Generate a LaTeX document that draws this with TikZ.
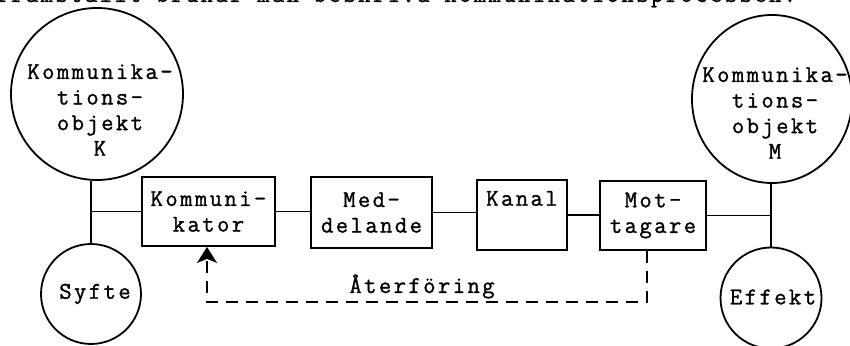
\documentclass[tikz,border=0pt]{standalone}
\usepackage{fontspec}
\newfontfamily\tw{Latin Modern Mono}[LetterSpace=10,FakeBold=1.2]
\usetikzlibrary{shapes.geometric,arrows.meta}
\begin{document}
\begin{tikzpicture}[x=0.5pt,y=-0.5pt, line width=0.9pt,
  txt/.style={font=\tw\fontsize{12}{12.8}\selectfont, inner sep=0pt, align=center},
  bigcirc/.style={draw, ellipse, inner sep=0pt},
  smallcirc/.style={draw, circle, inner sep=0pt, minimum size=50pt},
  box/.style={draw, rectangle, inner sep=0pt, txt},
  fb/.style={dash pattern=on 6pt off 4pt}]
\useasboundingbox (0,0) rectangle (850,346);
\clip (0,0) rectangle (850,346);
\node[txt, anchor=base east] (intro) at (797,2) {framställt brukar man beskriva kommunikationsprocessen.};
% circles
\node[bigcirc, minimum width=86pt, minimum height=86pt] (K) at (97,94) {};
\node[txt] (Kt) at (100,110) {Kommunika-\\tions-\\objekt\\K};
\node[bigcirc, minimum width=80pt, minimum height=84pt] (M) at (772,99) {};
\node[txt] (Mt) at (775,113) {Kommunika-\\tions-\\objekt\\M};
\node[smallcirc] (S) at (91,294) {};
\node[txt] (St) at (95,294) {Syfte};
\node[smallcirc, minimum size=50.5pt] (E) at (771,298) {};
\node[txt] (Et) at (773,297) {Effekt};
% boxes
\node[box, minimum width=66.5pt, minimum height=34.5pt] (KB) at (208.5,211.5) {Kommuni-\\kator};
\node[box, minimum width=60.5pt, minimum height=35.5pt] (MD) at (371.5,212.5) {Med-\\delande};
\node[box, minimum width=45pt, minimum height=35pt] (KA) at (522,215) {Kanal\\\strut};
\node[box, minimum width=53pt, minimum height=34.5pt] (MT) at (653,215.5) {Mot-\\tagare};
% connectors
\draw (S.north) -- (S.north |- K.south);
\draw (KB.west) -- (KB.west -| S.north);
\draw (KB.east) -- (KB.east -| MD.west);
\draw (MD.east) -- (MD.east -| KA.west);
\draw (KA.east) -- (KA.east -| MT.west);
\draw (MT.east) -- (MT.east -| E.north);
\draw (E.north) -- (E.north |- M.south);
% feedback
\coordinate (fr) at (647,302);
\coordinate (fl) at (207,302);
\draw[fb, -{Stealth[length=8pt,width=10pt,inset=2pt]}] (MT.south -| fr) -- (fr) -- (fl) -- (KB.south -| fl);
\node[txt, anchor=base] (ret) at (422,293) {Återföring};
\end{tikzpicture}
\end{document}
